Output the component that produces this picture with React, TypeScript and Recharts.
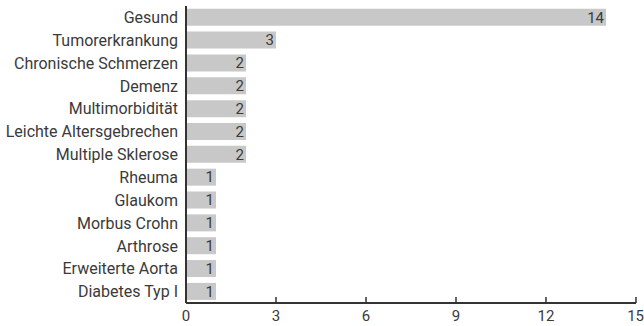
import { BarChart, Bar, XAxis, YAxis, LabelList } from "recharts"

const categories = [
  "Gesund",
  "Tumorerkrankung",
  "Chronische Schmerzen",
  "Demenz",
  "Multimorbidität",
  "Leichte Altersgebrechen",
  "Multiple Sklerose",
  "Rheuma",
  "Glaukom",
  "Morbus Crohn",
  "Arthrose",
  "Erweiterte Aorta",
  "Diabetes Typ I"
]

const counts = [14, 3, 2, 2, 2, 2, 2, 1, 1, 1, 1, 1, 1]

const xTicks = [0, 3, 6, 9, 12, 15]

const data = categories.map((name, i) => ({ name, value: counts[i] }))

const font = "Roboto, sans-serif"
const textColor = "#3a3a3a"

export default function App() {
  return (
    <div style={{ position: "absolute", left: 0, top: 0 }}>
      <BarChart
        width={644}
        height={326}
        data={data}
        layout="vertical"
        margin={{ top: 6, right: 8, left: 0, bottom: 0 }}
        barCategoryGap="12%"
      >
        <XAxis
          type="number"
          domain={[0, 15]}
          ticks={xTicks}
          height={23}
          axisLine={{ stroke: "#333", strokeWidth: 2 }}
          tickLine={{ stroke: "#333", strokeWidth: 1.5 }}
          tickSize={-6}
          tickMargin={13}
          tick={{ fontSize: 15, fill: textColor, fontFamily: font }}
        />
        <YAxis
          type="category"
          dataKey="name"
          width={186}
          interval={0}
          axisLine={{ stroke: "#333", strokeWidth: 2 }}
          tickLine={false}
          tickMargin={2}
          tick={{ fontSize: 16, fill: textColor, fontFamily: font }}
        />
        <Bar dataKey="value" fill="#c8c8c8" isAnimationActive={false}>
          <LabelList
            dataKey="value"
            position="insideRight"
            offset={2}
            style={{ fontSize: 15, fill: textColor, fontFamily: font }}
          />
        </Bar>
      </BarChart>
    </div>
  )
}
